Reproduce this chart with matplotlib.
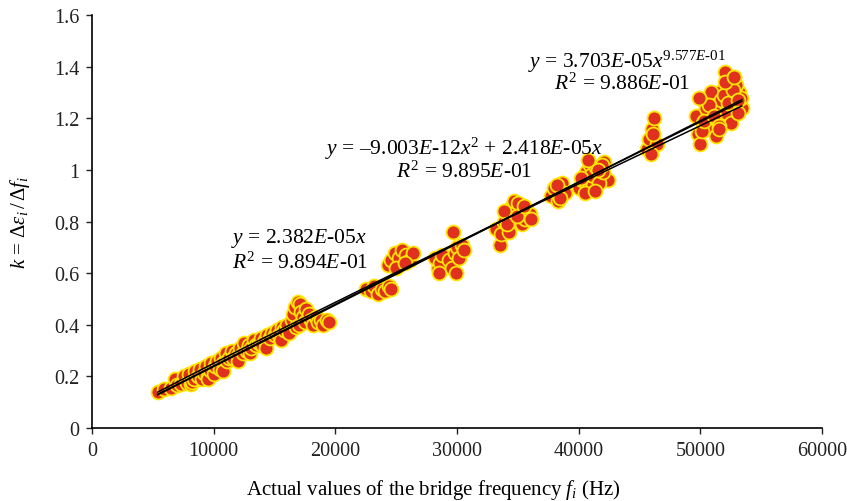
import matplotlib
matplotlib.use("Agg")
import matplotlib.pyplot as plt
import numpy as np

plt.rcParams['font.family'] = ['Liberation Serif', 'DejaVu Serif']
plt.rcParams['mathtext.fontset'] = 'custom'
plt.rcParams['mathtext.rm'] = 'Liberation Serif'
plt.rcParams['mathtext.it'] = 'Liberation Serif:italic'
plt.rcParams['mathtext.bf'] = 'Liberation Serif:bold'

# Measured data: frequency (Hz) and k
freq = [5400, 5900, 6500, 6800, 7000, 7300, 7600, 7800, 8000, 8100, 8200, 8400, 8500, 8700,
        8900, 9000, 9200, 9400, 9500, 9500, 9700, 9800, 10000, 10100, 10300, 10500, 10600,
        10800, 10800, 11000, 11100, 11300, 11500, 11600, 11800, 12000, 12000, 12200, 12400,
        12500, 12700, 12900, 13000, 13100, 13300, 13500, 13700, 13900, 14000, 14200, 14300,
        14400, 14600, 14800, 15000, 15200, 15400, 15500, 15600, 15800, 16000, 16200, 16400,
        16500, 16700, 16800, 16900, 17000, 17100, 17200, 17300, 17500, 17600, 17800, 18000,
        18200, 18400, 18600, 18800, 19000, 19300, 19500,
        22500, 22900, 23200, 23500, 23800, 24100, 24400, 24600,
        24300, 24600, 24900, 25200, 25500, 25800, 26100, 26400, 25000, 25700,
        28200, 28400, 28600, 28800, 28500, 29300, 29600, 29800, 30000, 30200, 30400, 29900,
        29700, 30600, 33500,
        33200, 33600, 33900, 34200, 34500, 34800, 35100, 35400, 35700, 36000, 34300, 34700,
        35000, 35300, 35600, 33900, 34100, 34900, 35500, 36100,
        37700, 38000, 38300, 38600, 38900, 38200, 38500,
        40000, 40300, 40600, 40900, 41200, 41500, 41800, 42100, 42400, 40500, 41000, 41400,
        41700, 42000, 40800, 41300, 41900, 40200, 41600,
        45600, 45800, 46000, 46200, 46400, 46100, 45900,
        49600, 49800, 50000, 50200, 50400, 50600, 50800, 51000, 51200, 51400, 51600, 51800,
        52000, 52200, 52400, 52600, 52800, 53000, 53200, 53400, 50100, 50500, 50900, 51300,
        51700, 52100, 52500, 52900, 53300, 50300, 50700, 51100, 51500, 51900, 52300, 52700,
        53100, 49900, 52000, 53100, 51500, 52800]
kval = [0.14, 0.15, 0.155, 0.19, 0.165, 0.17, 0.20, 0.175, 0.21, 0.17, 0.18, 0.19, 0.22, 0.20,
        0.23, 0.19, 0.215, 0.24, 0.20, 0.19, 0.225, 0.25, 0.21, 0.24, 0.26, 0.23, 0.27,
        0.25, 0.22, 0.29, 0.26, 0.27, 0.30, 0.27, 0.29, 0.28, 0.26, 0.31, 0.29,
        0.33, 0.30, 0.32, 0.29, 0.31, 0.34, 0.32, 0.33, 0.35, 0.32, 0.34, 0.31,
        0.36, 0.35, 0.37, 0.36, 0.38, 0.36, 0.34, 0.39, 0.38, 0.40, 0.37, 0.42,
        0.44, 0.47, 0.39, 0.49, 0.40, 0.48, 0.45, 0.43, 0.41, 0.46, 0.44, 0.42,
        0.40, 0.43, 0.41, 0.42, 0.40, 0.42, 0.41,
        0.54, 0.53, 0.55, 0.52, 0.54, 0.53, 0.55, 0.54,
        0.63, 0.65, 0.68, 0.66, 0.69, 0.67, 0.65, 0.68, 0.62, 0.64,
        0.66, 0.62, 0.64, 0.67, 0.60, 0.65, 0.62, 0.68, 0.70, 0.66, 0.71, 0.60,
        0.76, 0.69, 0.71,
        0.77, 0.75, 0.80, 0.83, 0.86, 0.84, 0.80, 0.82, 0.85, 0.83, 0.76, 0.88,
        0.87, 0.79, 0.81, 0.84, 0.79, 0.82, 0.86, 0.81,
        0.90, 0.93, 0.88, 0.95, 0.91, 0.94, 0.89,
        0.93, 0.96, 0.99, 1.02, 0.94, 0.97, 1.00, 1.03, 0.96, 0.91, 0.98, 1.01,
        0.95, 0.99, 1.04, 0.92, 1.02, 0.97, 1.00,
        1.08, 1.12, 1.16, 1.20, 1.10, 1.14, 1.06,
        1.21, 1.14, 1.10, 1.18, 1.26, 1.22, 1.16, 1.28, 1.20, 1.25, 1.30, 1.19,
        1.38, 1.24, 1.32, 1.28, 1.36, 1.26, 1.30, 1.24, 1.15, 1.24, 1.30, 1.13,
        1.27, 1.22, 1.18, 1.33, 1.28, 1.19, 1.25, 1.21, 1.17, 1.29, 1.26, 1.31,
        1.27, 1.28, 1.34, 1.22, 1.16, 1.36]

x_fit = np.linspace(5400, 53400, 300)
lin_a = 2.382e-05
poly_a, poly_b = -9.003e-12, 2.418e-05
pow_a, pow_b = 3.703e-05, 9.577e-01

fig = plt.figure(figsize=(8.47, 5.02), dpi=100)
ax = fig.add_axes([0.1086, 0.1454, 0.862, 0.8226])

ax.scatter(freq, kval, s=100, c='#E0301E', edgecolors='#FFE600', linewidths=1.3, zorder=2)
ax.plot(x_fit, lin_a * x_fit, color='black', lw=1.1, zorder=3)
ax.plot(x_fit, poly_a * x_fit**2 + poly_b * x_fit, color='black', lw=1.1, zorder=3)
ax.plot(x_fit, pow_a * x_fit**pow_b, color='black', lw=1.1, zorder=3)

ax.set_xlim(0, 60000)
ax.set_ylim(0, 1.6)
ax.set_xticks([0, 10000, 20000, 30000, 40000, 50000, 60000])
ax.set_xticklabels(['0', '10000', '20000', '30000', '40000', '50000', '60000'])
ax.set_yticks([0, 0.2, 0.4, 0.6, 0.8, 1.0, 1.2, 1.4, 1.6])
ax.set_yticklabels(['0', '0.2', '0.4', '0.6', '0.8', '1', '1.2', '1.4', '1.6'])
ax.tick_params(labelsize=14.5, length=4, width=1, direction='out', colors='#222222', pad=5)
for s in ['top', 'right']:
    ax.spines[s].set_visible(False)
for s in ['left', 'bottom']:
    ax.spines[s].set_linewidth(1.2)

ax.set_xlabel(r'Actual values of the bridge frequency $f_i$ (Hz)', fontsize=15)
ax.xaxis.set_label_coords(0.468, -0.118)
ax.set_ylabel(r'$k$ = $\mathit{\Delta\varepsilon}_i\,/\,\mathit{\Delta f}_i$', fontsize=15)
ax.yaxis.set_label_coords(-0.082, 0.5)

fs = 15.5
ax.text(44000, 1.40, r'$y$ = 3.703$E$-05$x^{9.577E\text{-}01}$', fontsize=fs, ha='center')
ax.text(43600, 1.314, r'$R^2$ = 9.886$E$-01', fontsize=fs, ha='center')
ax.text(30600, 1.062, r'$y$ = –9.003$E$-12$x^2$ + 2.418$E$-05$x$', fontsize=fs, ha='center')
ax.text(30600, 0.973, r'$R^2$ = 9.895$E$-01', fontsize=fs, ha='center')
ax.text(17000, 0.72, r'$y$ = 2.382$E$-05$x$', fontsize=fs, ha='center')
ax.text(17100, 0.62, r'$R^2$ = 9.894$E$-01', fontsize=fs, ha='center')

fig.savefig('out.png', dpi=100)
